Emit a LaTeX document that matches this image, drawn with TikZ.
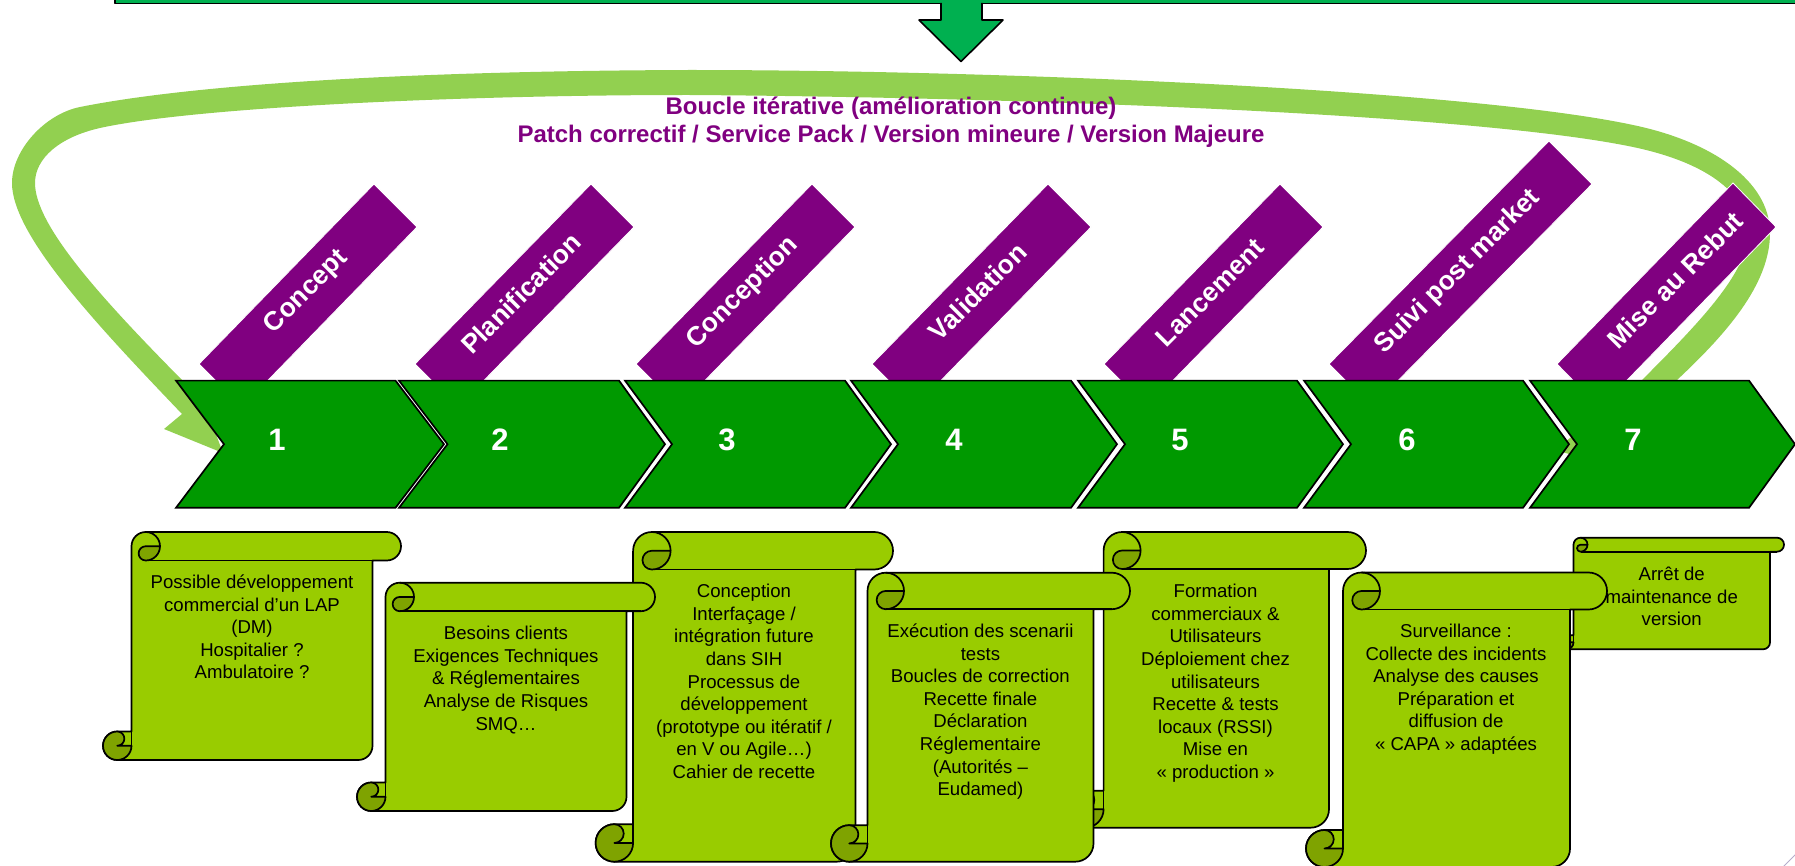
\documentclass[tikz,border=0pt]{standalone}
\usepackage{fontspec}
\setmainfont{Liberation Sans}
\definecolor{bandgreen}{HTML}{00B050}
\definecolor{loopgreen}{HTML}{92D050}
\definecolor{chevgreen}{HTML}{009900}
\definecolor{purpleband}{HTML}{800080}
\definecolor{scrolllight}{HTML}{99CC00}
\definecolor{scrolldark}{HTML}{7FA300}
\definecolor{cornerline}{HTML}{B4ACCB}
\tikzset{
  outlined/.style={draw=black,line width=1.6pt,line join=round},
  scrollline/.style={draw=black,line width=1.7pt,line join=round},
  purpleshape/.style={fill=purpleband,draw=white,line width=0.8pt},
  chevshape/.style={fill=chevgreen,draw=black,line width=1.7pt,line join=miter},
  chevnum/.style={text=white,font=\bfseries\fontsize{31}{35}\selectfont,inner sep=0pt},
  bandtext/.style={text=white,rotate=45,font=\bfseries\fontsize{26.5}{30}\selectfont,inner sep=0pt},
  looptext/.style={text=purpleband,align=center,font=\bfseries\fontsize{24}{28}\selectfont,inner sep=0pt},
  scrolltext/.style={text=black,align=center,anchor=north,inner sep=0pt,font=\fontsize{18.6}{22.6}\selectfont},
}
\newcommand{\scrollshape}[5]{%
  \pgfmathsetmacro\sL{#1}\pgfmathsetmacro\sT{#2}\pgfmathsetmacro\sRt{#3}\pgfmathsetmacro\sB{#4}%
  \pgfmathsetmacro\sC{#5}\pgfmathsetmacro\sH{#5/2}\pgfmathsetmacro\sQ{#5/4}%
  \path[fill=scrolllight,scrollline] ({\sL+\sC},{\sT+\sH}) arc[start angle=180,end angle=270,radius=\sH]
    -- ({\sRt-\sH},\sT) arc[start angle=270,end angle=450,radius=\sH]
    -- ({\sRt-\sC},{\sT+\sC}) -- ({\sRt-\sC},{\sB-\sH}) arc[start angle=0,end angle=90,radius=\sH]
    -- ({\sL+\sH},\sB) arc[start angle=90,end angle=270,radius=\sH]
    -- ({\sL+\sC},{\sB-\sC}) -- cycle;
  \path[fill=scrolldark,scrollline] ({\sL+1.5*\sC},{\sT+\sH}) -- ({\sL+2*\sC},{\sT+\sH})
    arc[start angle=0,end angle=90,radius=\sH] arc[start angle=90,end angle=270,radius=\sQ] -- cycle;
  \draw[scrollline] ({\sL+1.5*\sC},\sT) arc[start angle=270,end angle=360,radius=\sH];
  \draw[scrollline] ({\sL+1.5*\sC},{\sT+\sC}) -- ({\sRt-\sH},{\sT+\sC});
  \path[fill=scrolldark,scrollline] ({\sL+\sH},{\sB-\sH}) arc[start angle=90,end angle=-90,radius=\sQ]
    arc[start angle=270,end angle=0,radius=\sH] -- cycle;
  \draw[scrollline] ({\sL+\sC},{\sT+\sH}) -- ({\sL+\sC},{\sB-\sH});
}
\newcommand{\purpleband}[6]{% left, top, right corners
  \path[purpleshape] (#1,#2) -- (#3,#4) -- (#5,#6) -- ({#1+#5-#3},{#2+#6-#4}) -- cycle;
}
\newcommand{\chevron}[4]{% left, shoulder, notch offset, tip offset
  \path[chevshape] (#1,380.6) -- (#2,380.6) -- ({#2+#4},444.2) -- (#2,507.8) -- (#1,507.8) -- ({#1+#3},444.2) -- cycle;
}
\begin{document}
\begin{tikzpicture}[x=1pt,y=-1pt]
\useasboundingbox (0,0) rectangle (1795,866);
% top band and arrow
\path[fill=bandgreen,outlined] (115,-10) rectangle (1815,3.5);
\path[fill=bandgreen] (941,2) -- (941,20) -- (919,20) -- (961,61.5) -- (1003,20) -- (982,20) -- (982,2) -- cycle;
\draw[outlined] (941,3) -- (941,20) -- (919,20) -- (961,61.5) -- (1003,20) -- (982,20) -- (982,3);
% loop
\fill[loopgreen] (1590,460) -- (1677,380)
  .. controls (1725,335) and (1770,285) .. (1770,233)
  .. controls (1770,180) and (1710,141) .. (1633,125)
  .. controls (1470,90) and (1000,70) .. (689,70)
  .. controls (400,71) and (190,85) .. (80,107)
  .. controls (45,114) and (12,150) .. (12,183)
  .. controls (12,235) and (97,325) .. (182,414)
  -- (164,429) -- (223,453) -- (205,405) -- (182,380)
  .. controls (100,297) and (35,225) .. (35,183)
  .. controls (35,158) and (60,137) .. (100,128)
  .. controls (190,108) and (450,95) .. (689,95)
  .. controls (1000,97) and (1470,113) .. (1633,147)
  .. controls (1700,161) and (1748,190) .. (1748,233)
  .. controls (1748,272) and (1700,322) .. (1642,380)
  -- (1555,450) -- cycle;
\node[looptext] (looplabel) at (891,122.5) {Boucle itérative (amélioration continue)\\Patch correctif / Service Pack / Version mineure / Version Majeure};
% purple bands
\purpleband{199}{364}{374}{184}{417}{227}
\purpleband{415}{364}{591}{184}{634}{227}
\purpleband{636}{364}{812}{184}{855}{227}
\purpleband{872}{364}{1048}{184}{1091}{227}
\purpleband{1104}{364}{1280}{184}{1323}{227}
\purpleband{1329}{364}{1549}{141}{1592}{184}
\purpleband{1557}{364}{1733}{183}{1776}{227}
\node[bandtext] (bandone) at (306.5,292) {Concept};
\node[bandtext] (bandtwo) at (521,293.5) {Planification};
\node[bandtext] (bandthree) at (743,293) {Conception};
\node[bandtext] (bandfour) at (977.5,292) {Validation};
\node[bandtext] (bandfive) at (1210,292.5) {Lancement};
\node[bandtext] (bandsix) at (1458,272) {Suivi post market};
\node[bandtext] (bandseven) at (1675,280) {Mise au Rebut};
% chevrons
\chevron{176}{395.5}{48}{48.5}
\chevron{399}{619}{48.5}{46}
\chevron{625}{845}{47}{46}
\chevron{851}{1071}{47}{46}
\chevron{1078}{1297}{47}{46}
\chevron{1304}{1523}{47}{46}
\chevron{1530}{1749}{47}{46}
\node[chevnum] (numone) at (277,440) {1};
\node[chevnum] (numtwo) at (500,440) {2};
\node[chevnum] (numthree) at (727,440) {3};
\node[chevnum] (numfour) at (954,440) {4};
\node[chevnum] (numfive) at (1180,440) {5};
\node[chevnum] (numsix) at (1407,440) {6};
\node[chevnum] (numseven) at (1633,440) {7};
% scrolls
\scrollshape{103}{532}{401}{760}{28.5}
\node[scrolltext] (textone) at (252,572.4) {\strut Possible développement\\commercial d’un LAP\\(DM)\\Hospitalier ?\\Ambulatoire ?};
\scrollshape{595.6}{532}{893}{861.7}{37.5}
\node[scrolltext] (textthree) at (744,581.7) {\strut Conception\\Interfaçage /\\intégration future\\dans SIH\\Processus de\\développement\\(prototype ou itératif /\\en V ou Agile…)\\Cahier de recette};
\scrollshape{357}{582.7}{655}{811}{28.5}
\node[scrolltext] (texttwo) at (506,623.7) {\strut Besoins clients\\Exigences Techniques\\\& Réglementaires\\Analyse de Risques\\SMQ…};
\scrollshape{1066.6}{532}{1366}{827.7}{37}
\node[scrolltext] (textfive) at (1215.5,581.7) {\strut Formation\\commerciaux \&\\Utilisateurs\\Déploiement chez\\utilisateurs\\Recette \& tests\\locaux (RSSI)\\Mise en\\« production »};
\scrollshape{831}{572.7}{1130}{861.7}{36.5}
\node[scrolltext] (textfour) at (980.4,621.4) {\strut Exécution des scenarii\\tests\\Boucles de correction\\Recette finale\\Déclaration\\Réglementaire\\(Autorités –\\Eudamed)};
\scrollshape{1559.5}{537.7}{1784}{649.3}{14}
\node[scrolltext] (textseven) at (1671.7,564.4) {\strut Arrêt de\\maintenance de\\version};
\scrollshape{1306}{572.5}{1607}{867}{37}
\node[scrolltext] (textsix) at (1456,621.4) {\strut Surveillance :\\Collecte des incidents\\Analyse des causes\\Préparation et\\diffusion de\\« CAPA » adaptées};
% corner mark
\draw[cornerline,line width=0.8pt] (1782,868) -- (1796,854);
\end{tikzpicture}
\end{document}
